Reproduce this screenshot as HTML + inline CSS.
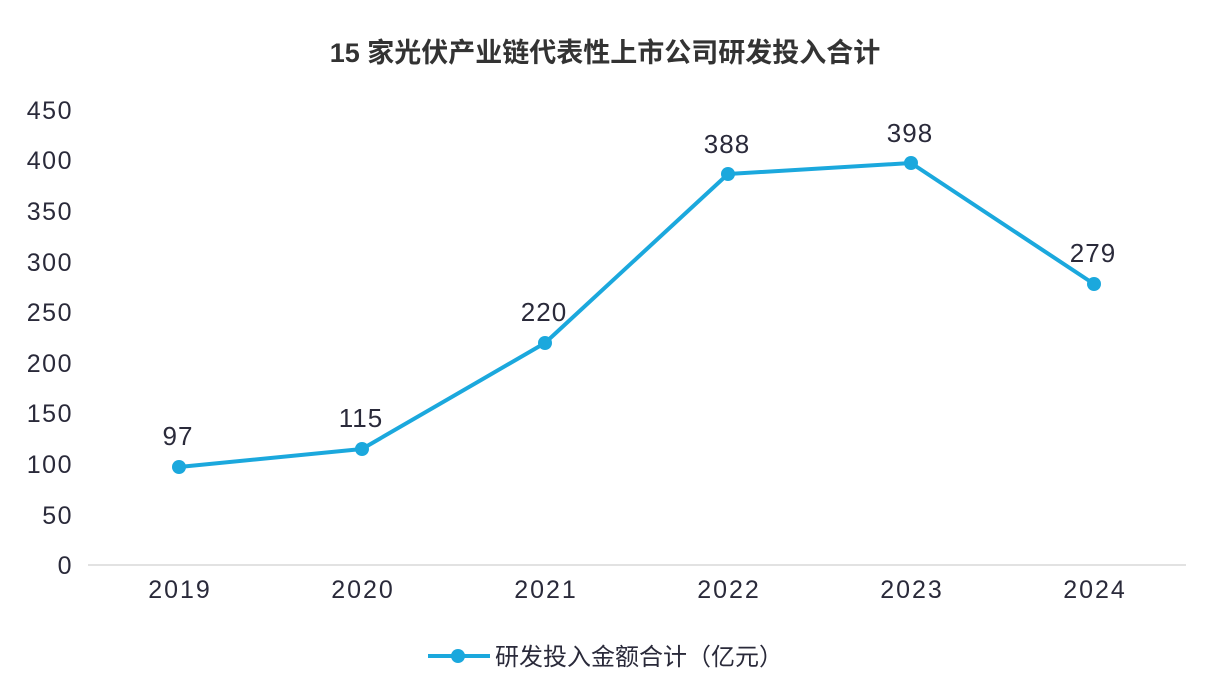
<!DOCTYPE html>
<html><head><meta charset="utf-8"><style>
body{margin:0;background:#fff;}
svg text{font-family:"Liberation Sans","Noto Sans CJK SC",sans-serif;}
</style></head><body>
<svg width="1210" height="680" viewBox="0 0 1210 680" xmlns="http://www.w3.org/2000/svg">
<rect width="1210" height="680" fill="#fff"/>
<text x="605" y="62" text-anchor="middle" font-size="27" font-weight="bold" fill="#333">15 家光伏产业链代表性上市公司研发投入合计</text>
<g font-size="25" fill="#2a2a3a" text-anchor="end" letter-spacing="1.5">
<text x="73" y="574">0</text>
<text x="73" y="524">50</text>
<text x="73" y="473">100</text>
<text x="73" y="422">150</text>
<text x="73" y="372">200</text>
<text x="73" y="321">250</text>
<text x="73" y="271">300</text>
<text x="73" y="220">350</text>
<text x="73" y="169">400</text>
<text x="73" y="119">450</text>
</g>
<line x1="88" y1="565" x2="1186" y2="565" stroke="#d9d9d9" stroke-width="1.5"/>
<g font-size="25" fill="#2a2a3a" text-anchor="middle" letter-spacing="2">
<text x="180" y="598">2019</text>
<text x="363" y="598">2020</text>
<text x="546" y="598">2021</text>
<text x="729" y="598">2022</text>
<text x="912" y="598">2023</text>
<text x="1095" y="598">2024</text>
</g>
<polyline points="179,467 362,449 545,343 728,174 911,163 1094,284" fill="none" stroke="#1ba8dd" stroke-width="4" stroke-linejoin="round"/>
<g fill="#1ba8dd">
<circle cx="179" cy="467" r="7"/><circle cx="362" cy="449" r="7"/><circle cx="545" cy="343" r="7"/>
<circle cx="728" cy="174" r="7"/><circle cx="911" cy="163" r="7"/><circle cx="1094" cy="284" r="7"/>
</g>
<g font-size="26" fill="#2a2a3a" text-anchor="middle" letter-spacing="1">
<text x="178" y="445">97</text>
<text x="361" y="427">115</text>
<text x="544" y="321">220</text>
<text x="727" y="153">388</text>
<text x="910" y="142">398</text>
<text x="1093" y="262">279</text>
</g>
<line x1="428" y1="656" x2="490" y2="656" stroke="#1ba8dd" stroke-width="4"/>
<circle cx="458" cy="656" r="7" fill="#1ba8dd"/>
<text x="495" y="665" font-size="24" fill="#2a2a3a">研发投入金额合计（亿元）</text>
</svg>
</body></html>
